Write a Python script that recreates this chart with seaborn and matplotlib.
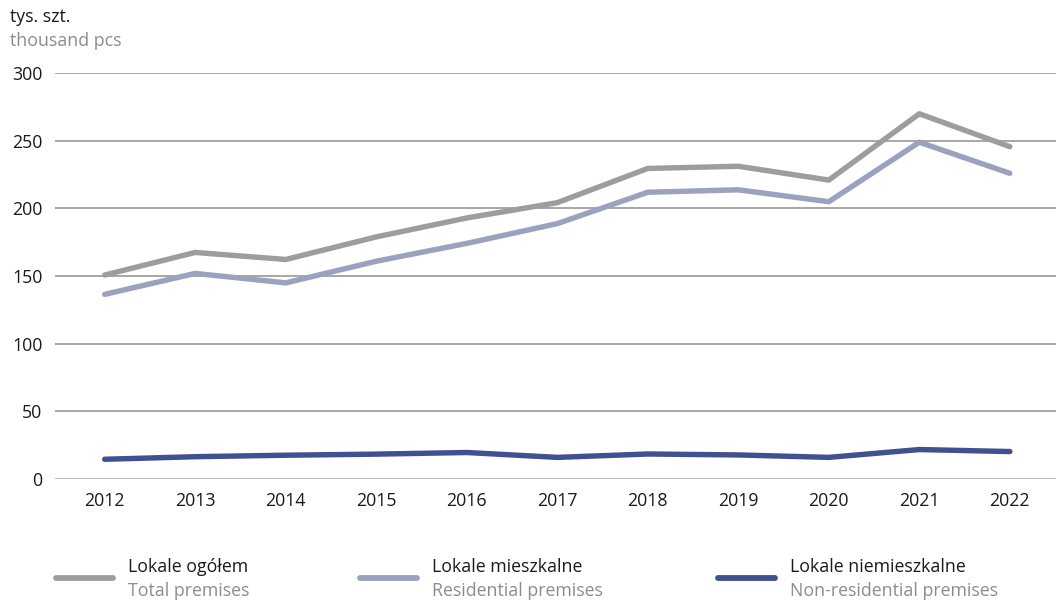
import pandas as pd
import matplotlib.pyplot as plt
import seaborn as sns
from matplotlib.lines import Line2D

# Data (thousand pcs)
years = [2012, 2013, 2014, 2015, 2016, 2017, 2018, 2019, 2020, 2021, 2022]
total = [150.8, 167.5, 162.3, 179.0, 193.0, 204.3, 229.6, 231.2, 221.0, 270.0, 245.7]
residential = [136.5, 152.0, 145.0, 161.0, 174.2, 188.8, 212.0, 213.8, 205.0, 249.0, 226.0]
non_residential = [14.6, 16.5, 17.6, 18.4, 19.6, 16.0, 18.5, 17.8, 16.0, 21.8, 20.3]

series_pl = ['Lokale ogółem', 'Lokale mieszkalne', 'Lokale niemieszkalne']
series_en = ['Total premises', 'Residential premises', 'Non-residential premises']
colors = ['#9d9d9d', '#9ba1bf', '#3f5190']

y_ticks = [0, 50, 100, 150, 200, 250, 300]

df = pd.DataFrame({'year': years * 3,
                   'value': total + residential + non_residential,
                   'series': [s for s in series_pl for _ in years]})

sns.set_theme(style='white')
plt.rcParams['font.family'] = ['Open Sans', 'DejaVu Sans']

fig = plt.figure(figsize=(10.56, 6.03), dpi=100)
ax = fig.add_axes([0.052, 0.2056, 0.948, 0.673])

# gridlines behind the lines
for t in y_ticks:
    ax.axhline(t, color='#8f8f8f' if t else '#a8a8a8', lw=1.1, zorder=1)

sns.lineplot(data=df, x='year', y='value', hue='series', hue_order=series_pl,
             palette=colors, linewidth=3.9, legend=False, ax=ax, zorder=3,
             solid_capstyle='round')

ax.set_xlim(2011.45, 2022.51)
ax.set_ylim(0, 300)
ax.set_xticks(years)
ax.set_yticks(y_ticks)
ax.set_xlabel('')
ax.set_ylabel('')
ax.tick_params(axis='both', length=0, labelsize=12.8, colors='#1a1a1a')
ax.tick_params(axis='x', pad=9)
ax.tick_params(axis='y', pad=9)
sns.despine(ax=ax, left=True, bottom=True, top=True, right=True)

# unit label
fig.text(0.009, 0.972, 'tys. szt.', fontsize=12.8, color='#1a1a1a', va='center')
fig.text(0.009, 0.932, 'thousand pcs', fontsize=12.8, color='#8c8c8c', va='center')

# custom two-line legend
leg_x = [0.053, 0.341, 0.680]
for x0, c, pl, en in zip(leg_x, colors, series_pl, series_en):
    fig.add_artist(Line2D([x0, x0 + 0.054], [0.041, 0.041], color=c, lw=4.2,
                          solid_capstyle='round', transform=fig.transFigure))
    fig.text(x0 + 0.068, 0.060, pl, fontsize=12.8, color='#1a1a1a', va='center')
    fig.text(x0 + 0.068, 0.020, en, fontsize=12.8, color='#8c8c8c', va='center')

fig.savefig('out.png', dpi=100)
